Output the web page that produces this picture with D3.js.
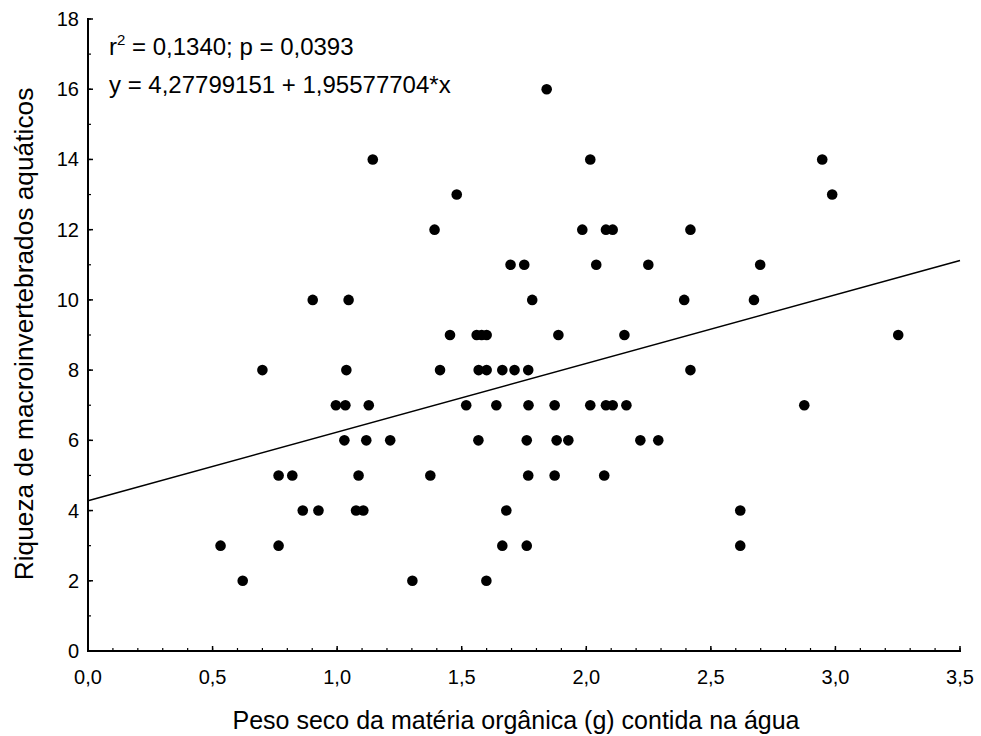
<!DOCTYPE html>
<html>
<head>
<meta charset="utf-8">
<script src="https://cdn.jsdelivr.net/npm/d3@7"></script>
<style>
  html, body { margin: 0; padding: 0; background: #fff; }
  svg { display: block; }
  text { font-family: "Liberation Sans", Arial, sans-serif; fill: #000; }
</style>
</head>
<body>
<svg id="chart" width="981" height="736"></svg>
<script>
// ---- data ----
const xValues = [
  0.621, 1.302, 1.599,
  0.532, 0.765, 1.663, 1.761, 2.618,
  0.862, 0.925, 1.076, 1.105, 1.679, 2.618,
  0.765, 0.820, 1.086, 1.374, 1.767, 1.873, 2.072,
  1.029, 1.117, 1.213, 1.567, 1.761, 1.881, 1.928, 2.217, 2.289,
  0.995, 1.033, 1.127, 1.518, 1.639, 1.768, 1.873, 2.016, 2.079, 2.106, 2.161, 2.875,
  0.700, 1.037, 1.413, 1.568, 1.600, 1.663, 1.712, 1.767, 2.418,
  1.453, 1.560, 1.580, 1.600, 1.888, 2.153, 3.252,
  0.902, 1.046, 1.783, 2.393, 2.673,
  1.696, 1.751, 2.040, 2.249, 2.698,
  1.391, 1.984, 2.079, 2.106, 2.418,
  1.480, 2.987,
  1.143, 2.016, 2.947,
  1.841
];
const yValues = [
  2, 2, 2,
  3, 3, 3, 3, 3,
  4, 4, 4, 4, 4, 4,
  5, 5, 5, 5, 5, 5, 5,
  6, 6, 6, 6, 6, 6, 6, 6, 6,
  7, 7, 7, 7, 7, 7, 7, 7, 7, 7, 7, 7,
  8, 8, 8, 8, 8, 8, 8, 8, 8,
  9, 9, 9, 9, 9, 9, 9,
  10, 10, 10, 10, 10,
  11, 11, 11, 11, 11,
  12, 12, 12, 12, 12,
  13, 13,
  14, 14, 14,
  16
];
const regression = [4.27799151, 1.95577704]; // intercept, slope
const xTickValues = [0, 0.5, 1, 1.5, 2, 2.5, 3, 3.5];
const yTickValues = [0, 2, 4, 6, 8, 10, 12, 14, 16, 18];
const xTitle = "Peso seco da matéria orgânica (g) contida na água";
const yTitle = "Riqueza de macroinvertebrados aquáticos";
const annotLine1 = ["r", "2", " = 0,1340; p = 0,0393"];
const annotLine2 = "y = 4,27799151 + 1,95577704*x";

// ---- layout ----
const svg = d3.select("#chart");
const mLeft = 88, mRight = 960, mTop = 19, mBottom = 651;
const x = d3.scaleLinear().domain([0, 3.5]).range([mLeft, mRight]);
const y = d3.scaleLinear().domain([0, 18]).range([mBottom, mTop]);
const fmt = d => d3.format(".1f")(d).replace(".", ",");

// minor ticks
const xMinor = d3.range(0, 3.5001, 0.1).map(v => +v.toFixed(1));
const yMinor = d3.range(0, 18.001, 1);

const gx = svg.append("g").attr("transform", `translate(0,${mBottom})`);
gx.selectAll("line.minor").data(xMinor).join("line")
  .attr("x1", d => x(d)).attr("x2", d => x(d))
  .attr("y1", 0).attr("y2", -3).attr("stroke", "#000").attr("stroke-width", 1.2);
gx.selectAll("line.major").data(xTickValues).join("line")
  .attr("x1", d => x(d)).attr("x2", d => x(d))
  .attr("y1", 0).attr("y2", -5).attr("stroke", "#000").attr("stroke-width", 1.5);
gx.append("line").attr("x1", mLeft - 1).attr("x2", mRight + 1).attr("y1", 0).attr("y2", 0)
  .attr("stroke", "#000").attr("stroke-width", 2);
gx.selectAll("text.tick").data(xTickValues).join("text")
  .attr("x", d => x(d)).attr("y", 33).attr("text-anchor", "middle")
  .attr("font-size", 20).text(fmt);

const gy = svg.append("g").attr("transform", `translate(${mLeft},0)`);
gy.selectAll("line.minor").data(yMinor).join("line")
  .attr("y1", d => y(d)).attr("y2", d => y(d))
  .attr("x1", 0).attr("x2", 3).attr("stroke", "#000").attr("stroke-width", 1.2);
gy.selectAll("line.major").data(yTickValues).join("line")
  .attr("y1", d => y(d)).attr("y2", d => y(d))
  .attr("x1", 0).attr("x2", 5).attr("stroke", "#000").attr("stroke-width", 1.5);
gy.append("line").attr("x1", 0).attr("x2", 0).attr("y1", mTop - 1).attr("y2", mBottom + 1)
  .attr("stroke", "#000").attr("stroke-width", 2);
gy.selectAll("text.tick").data(yTickValues).join("text")
  .attr("x", -9).attr("y", d => y(d) + 7).attr("text-anchor", "end")
  .attr("font-size", 20).text(d => d);

// regression line
const lineGen = d3.line().x(d => x(d)).y(d => y(regression[0] + regression[1] * d));
svg.append("path").datum([0, 3.5]).attr("d", lineGen)
  .attr("fill", "none").attr("stroke", "#000").attr("stroke-width", 1.6);

// points
svg.append("g").selectAll("circle").data(xValues).join("circle")
  .attr("cx", d => x(d)).attr("cy", (d, i) => y(yValues[i]))
  .attr("r", 5.3).attr("fill", "#000");

// annotation
const t1 = svg.append("text").attr("x", 109).attr("y", 55).attr("font-size", 24);
t1.append("tspan").text(annotLine1[0]);
t1.append("tspan").attr("font-size", 15).attr("dy", -10).text(annotLine1[1]);
t1.append("tspan").attr("dy", 10).text(annotLine1[2]);
svg.append("text").attr("x", 109).attr("y", 93).attr("font-size", 24).text(annotLine2);

// axis titles
svg.append("text").attr("x", 516).attr("y", 729)
  .attr("text-anchor", "middle").attr("font-size", 25).text(xTitle);
svg.append("text").attr("transform", `translate(33,${334}) rotate(-90)`)
  .attr("text-anchor", "middle").attr("font-size", 26.3).text(yTitle);
</script>
</body>
</html>
